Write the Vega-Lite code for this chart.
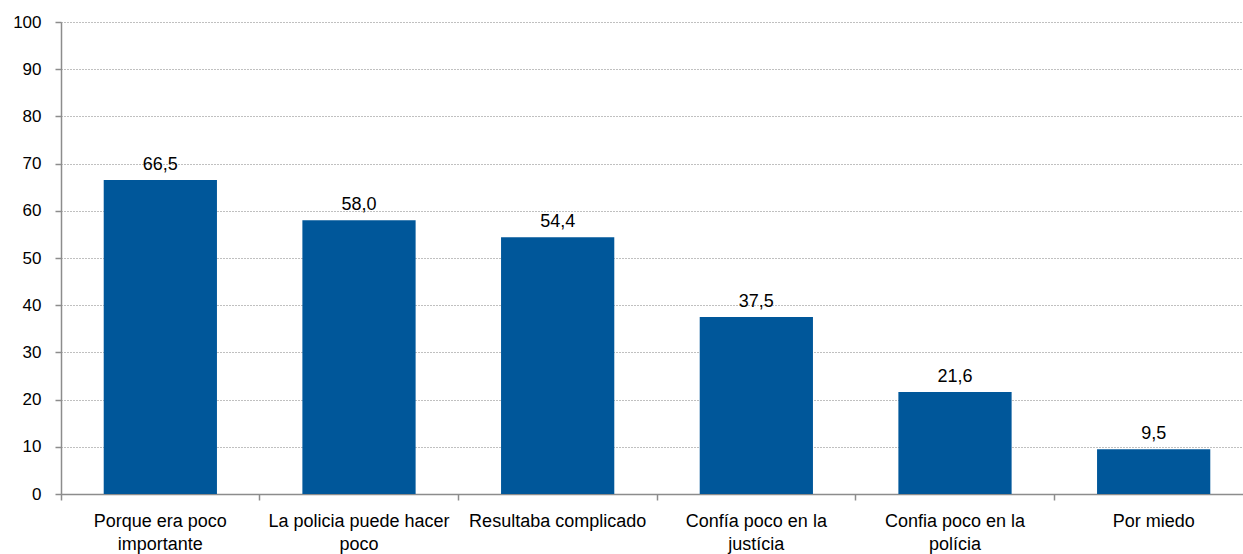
{
  "$schema": "https://vega.github.io/schema/vega-lite/v6.json",
  "width": 1192,
  "height": 472,
  "autosize": {"type": "none"},
  "padding": {"left": 61, "top": 22, "right": 0, "bottom": 60},
  "background": "white",
  "data": {
    "values": [
      {"cat": "Porque era poco|importante", "v": 66.5, "lbl": "66,5"},
      {"cat": "La policia puede hacer|poco", "v": 58.0, "lbl": "58,0"},
      {"cat": "Resultaba complicado", "v": 54.4, "lbl": "54,4"},
      {"cat": "Confía poco en la|justícia", "v": 37.5, "lbl": "37,5"},
      {"cat": "Confia poco en la|polícia", "v": 21.6, "lbl": "21,6"},
      {"cat": "Por miedo", "v": 9.5, "lbl": "9,5"}
    ]
  },
  "config": {
    "font": "Liberation Sans",
    "view": {"stroke": null},
    "axis": {"labelFont": "Liberation Sans", "labelColor": "#000000"}
  },
  "encoding": {
    "x": {
      "field": "cat", "type": "nominal", "sort": null,
      "scale": {"paddingInner": 0.43, "paddingOuter": 0.215},
      "axis": {
        "title": null, "labelAngle": 0, "labelExpr": "split(datum.label, '|')",
        "labelFontSize": 18, "labelPadding": 12, "labelLineHeight": 23,
        "domainColor": "#8c8c8c", "domainWidth": 1.5, "tickColor": "#8c8c8c", "tickSize": 6, "tickWidth": 1.5,
        "bandPosition": -0.377, "labelLimit": 300, "labelBaseline": "top"
      }
    },
    "y": {
      "field": "v", "type": "quantitative",
      "scale": {"domain": [0, 100], "nice": false},
      "axis": {
        "title": null, "values": [0,10,20,30,40,50,60,70,80,90,100],
        "labelFontSize": 17,
        "domain": true, "domainColor": "#8c8c8c", "domainWidth": 1.5, "tickColor": "#8c8c8c", "tickSize": 6, "tickWidth": 1.5,
        "gridColor": "#808080", "gridDash": [1, 2], "gridWidth": 1, "labelPadding": 14
      }
    }
  },
  "layer": [
    {"mark": {"type": "bar", "color": "#00579A"}},
    {"mark": {"type": "text", "baseline": "bottom", "dy": -6, "fontSize": 18, "font": "Liberation Sans", "color": "#000000"},
     "encoding": {"text": {"field": "lbl"}}}
  ]
}
